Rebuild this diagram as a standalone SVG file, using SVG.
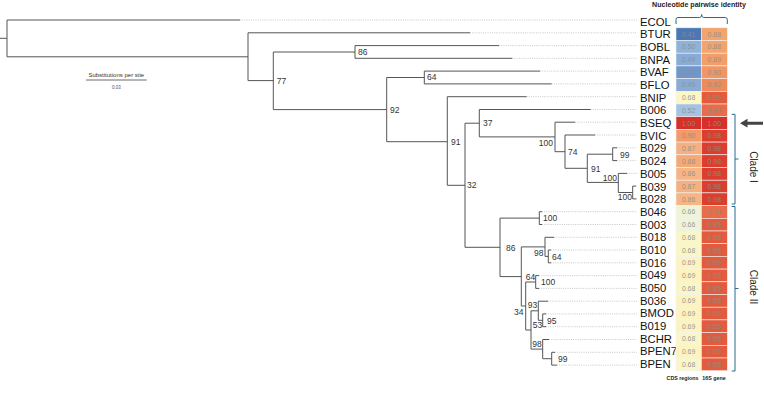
<svg xmlns="http://www.w3.org/2000/svg" width="764" height="402" viewBox="0 0 764 402">
<style>
.br{fill:none;stroke:#555;stroke-width:1}
.dt{fill:none;stroke:#bbb;stroke-width:0.8;stroke-dasharray:1 1.2}
.bs{font-family:"Liberation Sans",Arial,sans-serif;font-size:8.5px;fill:#333}
.lf{font-family:"Liberation Sans",Arial,sans-serif;font-size:11.3px;fill:#111}
.cv{font-family:"Liberation Sans",Arial,sans-serif;font-size:6.9px;fill:#8c8c8c;fill-opacity:0.9;text-anchor:middle}
.cl{stroke:#f2f2f2;stroke-width:0.6}
.bk{fill:none;stroke:#2a6a8e;stroke-width:1}
.hd{font-family:"Liberation Sans",Arial,sans-serif;font-weight:bold;fill:#222}
</style>
<rect width="764" height="402" fill="#fff"/>

<g id="connectors">
<path class="br" d="M0 38.3H7M7 20V56.8M7 20H240M7 56.8H248"/>
<path class="br" d="M248 32.8V80.6M248 32.8H470M248 80.6H273.3"/>
<path class="br" d="M273.3 52V109.6M273.3 52H355M273.3 109.6H386.7"/>
<path class="br" d="M355 45.6V58.3M355 45.6H499M355 58.3H512.3"/>
<path class="br" d="M386.7 77.5V141.7M386.7 77.5H424.3M386.7 141.7H447.3"/>
<path class="br" d="M424.3 71.1V83.9M424.3 71.1H540M424.3 83.9H551.7"/>
<path class="br" d="M447.3 96.7V185.3M447.3 96.7H526.7M447.3 185.3H465"/>
<path class="br" d="M465 123.2V247.3M465 123.2H479.3M465 247.3H500"/>
<path class="br" d="M479.3 109.5V136.9M479.3 109.5H590.7M479.3 136.9H555"/>
<path class="br" d="M555 122.2V151.7M555 122.2H575M555 151.7H565"/>
<path class="br" d="M565 135V168.3M565 135H595M565 168.3H587.3"/>
<path class="br" d="M587.3 154.2V182.4M587.3 154.2H612.7M587.3 182.4H618.3"/>
<path class="br" d="M612.7 147.8V160.6M612.7 147.8H617M612.7 160.6H617"/>
<path class="br" d="M618.3 173.4V192.5M618.3 173.4H627M618.3 192.5H632.7"/>
<path class="br" d="M632.7 186.1V198.9M632.7 186.1H636M632.7 198.9H636.5"/>
<path class="br" d="M500 218.1V276.6M500 218.1H539.3M500 276.6H521.3"/>
<path class="br" d="M539.3 211.7V224.5M539.3 211.7H542M539.3 224.5H542"/>
<path class="br" d="M521.3 246.9V306M521.3 246.9H545M521.3 306H525.7"/>
<path class="br" d="M545 237.3V256.4M545 237.3H554M545 256.4H548.3"/>
<path class="br" d="M548.3 250V262.8M548.3 250H551M548.3 262.8H551"/>
<path class="br" d="M525.7 282V330M525.7 282H535.7M525.7 330H531"/>
<path class="br" d="M535.7 275.6V288.4M535.7 275.6H539M535.7 288.4H539"/>
<path class="br" d="M531 310.8V349.1M531 310.8H538.3M531 349.1H542.7"/>
<path class="br" d="M538.3 301.2V320.3M538.3 301.2H548M538.3 320.3H542.7"/>
<path class="br" d="M542.7 313.9V326.7M542.7 313.9H546M542.7 326.7H546"/>
<path class="br" d="M542.7 339.5V358.7M542.7 339.5H549M542.7 358.7H551.7"/>
<path class="br" d="M551.7 352.3V365.1M551.7 352.3H555M551.7 365.1H557"/>
<path class="dt" d="M240 20H637M470 32.8H637M499 45.6H637M512.3 58.3H637M540 71.1H637M551.7 83.9H637M526.7 96.7H637M590.7 109.5H637M575 122.2H637M595 135H637M617 147.8H637M617 160.6H637M627 173.4H637M636 186.1H637M542 211.7H637M542 224.5H637M554 237.3H637M551 250H637M551 262.8H637M539 275.6H637M539 288.4H637M548 301.2H637M546 313.9H637M546 326.7H637M549 339.5H637M555 352.3H637M557 365.1H637"/>
</g>

<g id="support-values" class="bs">
<text x="358" y="55.3">86</text>
<text x="276.7" y="83.7">77</text>
<text x="427" y="80.3">64</text>
<text x="390" y="113">92</text>
<text x="451" y="144.7">91</text>
<text x="483" y="126">37</text>
<text x="467" y="188">32</text>
<text x="553" y="146" text-anchor="end">100</text>
<text x="568" y="155">74</text>
<text x="591" y="172">91</text>
<text x="620" y="158">99</text>
<text x="617" y="181" text-anchor="end">100</text>
<text x="632" y="200" text-anchor="end">100</text>
<text x="506" y="251">86</text>
<text x="543" y="221">100</text>
<text x="543.5" y="255.7" text-anchor="end">98</text>
<text x="552" y="259.7">64</text>
<text x="525.7" y="279.7">64</text>
<text x="541" y="285">100</text>
<text x="523.5" y="314.7" text-anchor="end">34</text>
<text x="527.7" y="308">93</text>
<text x="547" y="323.7">95</text>
<text x="532.7" y="328">53</text>
<text x="541.7" y="347" text-anchor="end">98</text>
<text x="558" y="362">99</text>
</g>

<g id="scale-bar">
<text x="116.3" y="77" text-anchor="middle" style="font-family:'Liberation Sans',Arial,sans-serif;font-size:6px;fill:#333">Substitutions per site</text>
<path d="M86 80H146.7" stroke="#444" stroke-width="0.8"/>
<text x="116.3" y="88.5" text-anchor="middle" style="font-family:'Liberation Sans',Arial,sans-serif;font-size:4.5px;fill:#555">0.03</text>
</g>

<g id="leaf-labels" class="lf">
<text x="640" y="25.5">ECOL</text>
<text x="640" y="38.2">BTUR</text>
<text x="640" y="50.9">BOBL</text>
<text x="640" y="63.6">BNPA</text>
<text x="640" y="76.3">BVAF</text>
<text x="640" y="89">BFLO</text>
<text x="640" y="101.6">BNIP</text>
<text x="640" y="114.3">B006</text>
<text x="640" y="127">BSEQ</text>
<text x="640" y="139.7">BVIC</text>
<text x="640" y="152.4">B029</text>
<text x="640" y="165.1">B024</text>
<text x="640" y="177.8">B005</text>
<text x="640" y="190.5">B039</text>
<text x="640" y="203.2">B028</text>
<text x="640" y="215.9">B046</text>
<text x="640" y="228.5">B003</text>
<text x="640" y="241.2">B018</text>
<text x="640" y="253.9">B010</text>
<text x="640" y="266.6">B016</text>
<text x="640" y="279.3">B049</text>
<text x="640" y="292">B050</text>
<text x="640" y="304.7">B036</text>
<text x="640" y="317.4">BMOD</text>
<text x="640" y="330">B019</text>
<text x="640" y="342.7">BCHR</text>
<text x="640" y="355.4">BPEN7</text>
<text x="640" y="368.1">BPEN</text>
</g>

<g id="heatmap">
<g class="cl">
<rect x="676" y="27.8" width="25.3" height="12.7" fill="#4b77b6"/>
<rect x="676" y="40.5" width="25.3" height="12.7" fill="#8fb2d8"/>
<rect x="676" y="53.2" width="25.3" height="12.7" fill="#88acd5"/>
<rect x="676" y="65.9" width="25.3" height="12.7" fill="#6f97cb"/>
<rect x="676" y="78.6" width="25.3" height="12.7" fill="#88acd5"/>
<rect x="676" y="91.3" width="25.3" height="12.7" fill="#fbf7c6"/>
<rect x="676" y="104" width="25.3" height="12.7" fill="#a2c3e2"/>
<rect x="676" y="116.7" width="25.3" height="12.7" fill="#d7302a"/>
<rect x="676" y="129.4" width="25.3" height="12.7" fill="#f29a68"/>
<rect x="676" y="142.1" width="25.3" height="12.7" fill="#f5b07f"/>
<rect x="676" y="154.8" width="25.3" height="12.7" fill="#f4aa78"/>
<rect x="676" y="167.5" width="25.3" height="12.7" fill="#f6b585"/>
<rect x="676" y="180.2" width="25.3" height="12.7" fill="#f5b07f"/>
<rect x="676" y="192.9" width="25.3" height="12.7" fill="#f6b585"/>
<rect x="676" y="205.6" width="25.3" height="12.7" fill="#eef4d8"/>
<rect x="676" y="218.3" width="25.3" height="12.7" fill="#eef4d8"/>
<rect x="676" y="231" width="25.3" height="12.7" fill="#f9f6c8"/>
<rect x="676" y="243.7" width="25.3" height="12.7" fill="#f9f6c8"/>
<rect x="676" y="256.4" width="25.3" height="12.7" fill="#fcf3c0"/>
<rect x="676" y="269.1" width="25.3" height="12.7" fill="#fcf3c0"/>
<rect x="676" y="281.8" width="25.3" height="12.7" fill="#f9f6c8"/>
<rect x="676" y="294.5" width="25.3" height="12.7" fill="#fcf3c0"/>
<rect x="676" y="307.2" width="25.3" height="12.7" fill="#fcf3c0"/>
<rect x="676" y="319.9" width="25.3" height="12.7" fill="#fcf3c0"/>
<rect x="676" y="332.6" width="25.3" height="12.7" fill="#f9f6c8"/>
<rect x="676" y="345.3" width="25.3" height="12.7" fill="#fcf3c0"/>
<rect x="676" y="358" width="25.3" height="12.7" fill="#f9f6c8"/>

<rect x="701.3" y="27.8" width="26" height="12.7" fill="#f4a36c"/>
<rect x="701.3" y="40.5" width="26" height="12.7" fill="#f4a36c"/>
<rect x="701.3" y="53.2" width="26" height="12.7" fill="#f39d68"/>
<rect x="701.3" y="65.9" width="26" height="12.7" fill="#f29563"/>
<rect x="701.3" y="78.6" width="26" height="12.7" fill="#ef8a5a"/>
<rect x="701.3" y="91.3" width="26" height="12.7" fill="#e35a3e"/>
<rect x="701.3" y="104" width="26" height="12.7" fill="#e96b4a"/>
<rect x="701.3" y="116.7" width="26" height="12.7" fill="#d7302a"/>
<rect x="701.3" y="129.4" width="26" height="12.7" fill="#db3d2f"/>
<rect x="701.3" y="142.1" width="26" height="12.7" fill="#db3d2f"/>
<rect x="701.3" y="154.8" width="26" height="12.7" fill="#db3d2f"/>
<rect x="701.3" y="167.5" width="26" height="12.7" fill="#db3d2f"/>
<rect x="701.3" y="180.2" width="26" height="12.7" fill="#db3d2f"/>
<rect x="701.3" y="192.9" width="26" height="12.7" fill="#db3d2f"/>
<rect x="701.3" y="205.6" width="26" height="12.7" fill="#e96b4a"/>
<rect x="701.3" y="218.3" width="26" height="12.7" fill="#e35a3e"/>
<rect x="701.3" y="231" width="26" height="12.7" fill="#e35a3e"/>
<rect x="701.3" y="243.7" width="26" height="12.7" fill="#e35a3e"/>
<rect x="701.3" y="256.4" width="26" height="12.7" fill="#e35a3e"/>
<rect x="701.3" y="269.1" width="26" height="12.7" fill="#e35a3e"/>
<rect x="701.3" y="281.8" width="26" height="12.7" fill="#e35a3e"/>
<rect x="701.3" y="294.5" width="26" height="12.7" fill="#e35a3e"/>
<rect x="701.3" y="307.2" width="26" height="12.7" fill="#e35a3e"/>
<rect x="701.3" y="319.9" width="26" height="12.7" fill="#e35a3e"/>
<rect x="701.3" y="332.6" width="26" height="12.7" fill="#e35a3e"/>
<rect x="701.3" y="345.3" width="26" height="12.7" fill="#e35a3e"/>
<rect x="701.3" y="358" width="26" height="12.7" fill="#e35a3e"/>
</g>
<g class="cv">
<text x="688.6" y="36.6">0.41</text><text x="714.3" y="36.6">0.88</text>
<text x="688.6" y="49.3">0.50</text><text x="714.3" y="49.3">0.88</text>
<text x="688.6" y="62">0.49</text><text x="714.3" y="62">0.89</text>
<text x="688.6" y="74.7">0.47</text><text x="714.3" y="74.7">0.90</text>
<text x="688.6" y="87.4">0.49</text><text x="714.3" y="87.4">0.92</text>
<text x="688.6" y="100.1">0.68</text><text x="714.3" y="100.1">0.95</text>
<text x="688.6" y="112.8">0.52</text><text x="714.3" y="112.8">0.94</text>
<text x="688.6" y="125.5">1.00</text><text x="714.3" y="125.5">1.00</text>
<text x="688.6" y="138.2">0.90</text><text x="714.3" y="138.2">0.98</text>
<text x="688.6" y="150.9">0.87</text><text x="714.3" y="150.9">0.98</text>
<text x="688.6" y="163.6">0.88</text><text x="714.3" y="163.6">0.98</text>
<text x="688.6" y="176.3">0.86</text><text x="714.3" y="176.3">0.98</text>
<text x="688.6" y="189">0.87</text><text x="714.3" y="189">0.98</text>
<text x="688.6" y="201.7">0.86</text><text x="714.3" y="201.7">0.98</text>
<text x="688.6" y="214.4">0.66</text><text x="714.3" y="214.4">0.94</text>
<text x="688.6" y="227.1">0.66</text><text x="714.3" y="227.1">0.95</text>
<text x="688.6" y="239.8">0.68</text><text x="714.3" y="239.8">0.95</text>
<text x="688.6" y="252.5">0.68</text><text x="714.3" y="252.5">0.95</text>
<text x="688.6" y="265.2">0.69</text><text x="714.3" y="265.2">0.95</text>
<text x="688.6" y="277.9">0.69</text><text x="714.3" y="277.9">0.95</text>
<text x="688.6" y="290.6">0.68</text><text x="714.3" y="290.6">0.95</text>
<text x="688.6" y="303.3">0.69</text><text x="714.3" y="303.3">0.95</text>
<text x="688.6" y="316">0.69</text><text x="714.3" y="316">0.95</text>
<text x="688.6" y="328.7">0.69</text><text x="714.3" y="328.7">0.95</text>
<text x="688.6" y="341.4">0.68</text><text x="714.3" y="341.4">0.95</text>
<text x="688.6" y="354.1">0.69</text><text x="714.3" y="354.1">0.95</text>
<text x="688.6" y="366.8">0.68</text><text x="714.3" y="366.8">0.95</text>
</g>
<text class="hd" x="699" y="6.5" text-anchor="middle" font-size="7.1">Nucleotide pairwise identity</text>
<path class="bk" d="M676 24V19.5Q676 17.5 678 17.5H699.7Q701.7 17.5 701.7 14.5Q701.7 17.5 703.7 17.5H725.3Q727.3 17.5 727.3 19.5V24"/>
<text class="hd" x="682.5" y="380" text-anchor="middle" font-size="5.3">CDS regions</text>
<text class="hd" x="714" y="380" text-anchor="middle" font-size="5.3">16S gene</text>
</g>

<g id="clade-I">
<path class="bk" d="M731.7 114.3H735V204H731.7M735 159H738.5"/>
<text transform="translate(749.5,167) rotate(90)" text-anchor="middle" style="font-family:'Liberation Sans',Arial,sans-serif;font-size:10px;fill:#222">Clade I</text>
</g>
<g id="clade-II">
<path class="bk" d="M731.7 206.5H735V371H731.7M735 288.5H738.5"/>
<text transform="translate(749.5,287) rotate(90)" text-anchor="middle" style="font-family:'Liberation Sans',Arial,sans-serif;font-size:10px;fill:#222">Clade II</text>
</g>
<g id="arrow">
<path d="M740 123.2L747.5 118.8V121.7H763V124.7H747.5V127.6Z" fill="#444"/>
</g>
</svg>
